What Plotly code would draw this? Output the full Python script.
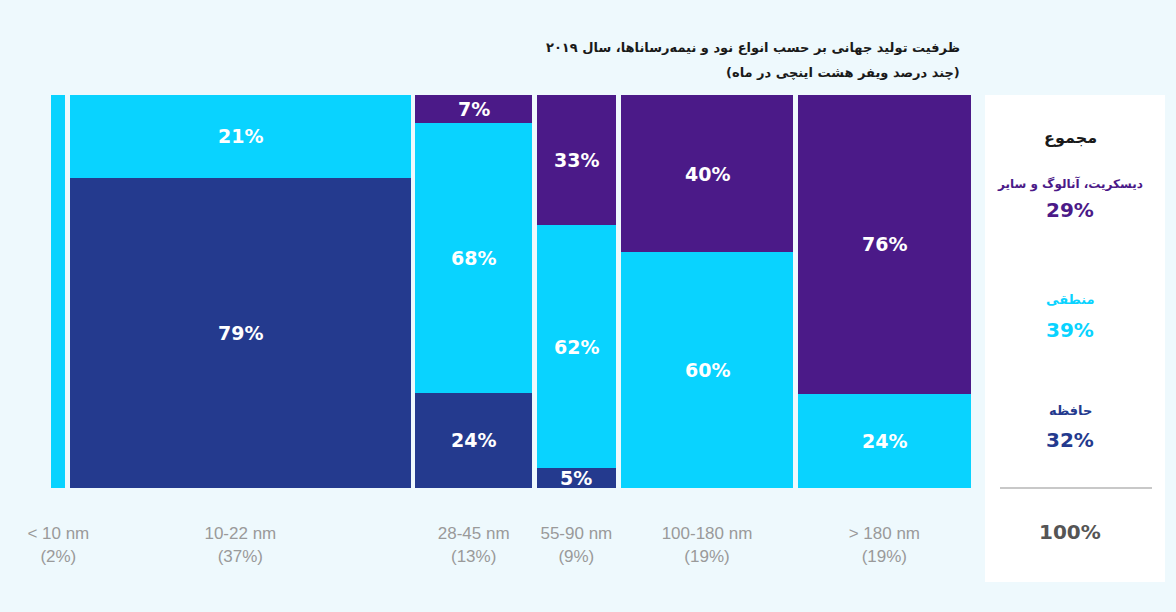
import plotly.graph_objects as go

# ---- data ----
nodes = ["&lt; 10 nm", "10-22 nm", "28-45 nm", "55-90 nm", "100-180 nm", "> 180 nm"]
node_share = [2, 37, 13, 9, 19, 19]          # share of capacity (column widths)
memory = [0, 79, 24, 5, 0, 0]                 # حافظه
logic = [100, 21, 68, 62, 60, 24]             # منطقی
discrete = [0, 0, 7, 33, 40, 76]              # دیسکریت، آنالوگ و سایر
totals = {"discrete": 29, "logic": 39, "memory": 32}

title_1 = "ظرفیت تولید جهانی بر حسب انواع نود و نیمه‌رسانا‌ها، سال ۲۰۱۹"
title_2 = "(چند درصد ویفر هشت اینچی در ماه)"

# ---- styles ----
C_MEM = "#243a8e"
C_LOG = "#09d3ff"
C_DIS = "#4b1a88"
BG = "#eef9fd"
GAP = 0.5
FA = "DejaVu Sans"
NUM = "DejaVu Sans"

# column geometry from shares
edges = [0]
for s in node_share:
    edges.append(edges[-1] + s)
centers = [(edges[i] + edges[i + 1]) / 2 for i in range(len(node_share))]
widths = [s - GAP for s in node_share]

fig = go.Figure()
annotations = []
series = [("memory", memory, C_MEM), ("logic", logic, C_LOG), ("discrete", discrete, C_DIS)]
bases = [0] * len(nodes)
col_sums = [memory[i] + logic[i] + discrete[i] for i in range(len(nodes))]
for name, vals, col in series:
    h = [v / col_sums[i] * 100 for i, v in enumerate(vals)]
    fig.add_trace(go.Bar(
        x=centers, y=h, base=bases[:], width=widths,
        marker=dict(color=col, line=dict(width=0)),
        hoverinfo="skip", showlegend=False, name=name,
    ))
    for i, v in enumerate(vals):
        if v > 0 and node_share[i] >= 5:
            annotations.append(dict(
                x=centers[i], y=bases[i] + h[i] / 2, xref="x", yref="y",
                xanchor="center", yanchor="middle",
                text=f"<b>{v}%</b>", showarrow=False,
                font=dict(family=NUM, size=19, color="white"),
            ))
    bases = [bases[i] + h[i] for i in range(len(nodes))]

# title
annotations.append(dict(x=0.988, y=1.122, xref="paper", yref="paper", xanchor="right", yanchor="middle",
                        text=f"<b>{title_1}</b>", showarrow=False,
                        font=dict(family=FA, size=13, color="#1a1a1a")))
annotations.append(dict(x=0.988, y=1.056, xref="paper", yref="paper", xanchor="right", yanchor="middle",
                        text=f"<b>{title_2}</b>", showarrow=False,
                        font=dict(family=FA, size=13, color="#1a1a1a")))

# right summary panel
px = lambda p: (p - 49) / 924
py = lambda p: (488 - p) / 393
cx = px(1070)
panel = [
    ("<b>مجموع</b>", 137, "#1a1a1a", 16, FA),
    ("<b>دیسکریت، آنالوگ و سایر</b>", 184, C_DIS, 12, FA),
    (f"<b>{totals['discrete']}%</b>", 210, C_DIS, 20, NUM),
    ("<b>منطقی</b>", 299, C_LOG, 13, FA),
    (f"<b>{totals['logic']}%</b>", 330, C_LOG, 20, NUM),
    ("<b>حافظه</b>", 410, C_MEM, 13, FA),
    (f"<b>{totals['memory']}%</b>", 440, C_MEM, 20, NUM),
    (f"<b>{sum(totals.values())}%</b>", 532, "#555555", 20, NUM),
]
for txt, y, col, size, fam in panel:
    annotations.append(dict(x=cx, y=py(y), xref="paper", yref="paper", text=txt,
                            xanchor="center", yanchor="middle",
                            showarrow=False, font=dict(family=fam, size=size, color=col)))

shapes = [
    dict(type="rect", xref="paper", yref="paper", x0=px(985), x1=px(1165), y0=py(582), y1=py(95),
         fillcolor="white", line=dict(width=0), layer="below"),
    dict(type="line", xref="paper", yref="paper", x0=px(1000), x1=px(1152), y0=py(488), y1=py(488),
         line=dict(color="#c8c8c8", width=2)),
]

tick_text = [f"{n}<br>({s}%)" for n, s in zip(nodes, node_share)]

fig.update_layout(
    width=1176, height=612,
    margin=dict(l=49, r=203, t=95, b=124),
    paper_bgcolor=BG, plot_bgcolor=BG,
    barmode="overlay", bargap=0,
    annotations=annotations, shapes=shapes,
    xaxis=dict(range=[0, edges[-1]], tickvals=centers, ticktext=tick_text,
               showgrid=False, zeroline=False, showline=False,
               ticks="outside", ticklen=30, tickcolor="rgba(0,0,0,0)",
               tickfont=dict(family="Liberation Sans", size=17, color="#9a9a9a"),
               fixedrange=True),
    yaxis=dict(range=[0, 100], visible=False, fixedrange=True),
)

fig.write_html("out.html", config={"displayModeBar": False},
               post_script="document.body.style.margin='0';document.body.style.background='%s';" % BG)
